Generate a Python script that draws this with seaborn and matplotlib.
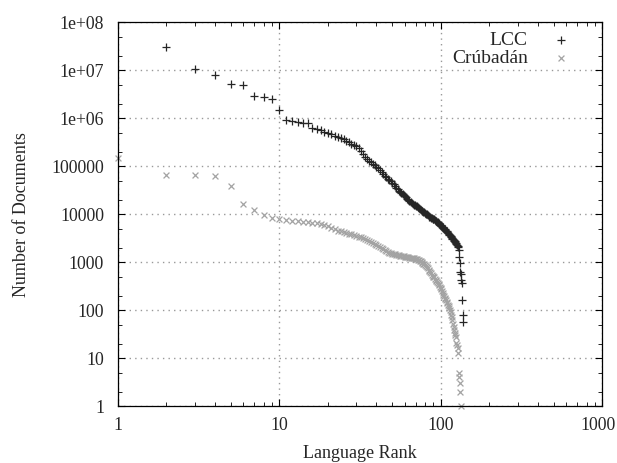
import pandas as pd
import matplotlib
matplotlib.use("Agg")
import matplotlib.pyplot as plt
import matplotlib.ticker as mticker
import matplotlib.transforms as mtransforms
import seaborn as sns

# LCC document counts by language rank (rank 1 lies above the plot)
lcc_rank = list(range(2, 139))
lcc_docs = [
    30000000, 10500000, 7900000, 5100000, 4900000, 2900000, 2700000, 2500000, 1500000,
    910000, 890000, 850000, 810000, 780000, 620000, 590000, 560000, 525000, 490000,
    457000, 427000, 398000, 380000, 363000, 339000, 316000, 295000, 275000, 257000,
    234000, 209000, 182000, 158000, 141000, 129000, 120000, 112000, 105000, 98000,
    91000, 83000, 76000, 69000, 63000, 59000, 55000, 51000, 48000, 45000,
    42000, 38000, 35500, 33000, 31000, 29000, 27500, 26300, 25100, 24000,
    22400, 20900, 19500, 18600, 17800, 17000, 16200, 15800, 15500, 15100,
    14500, 13800, 13200, 12600, 12000, 11700, 11500, 11200, 11000, 10500,
    10200, 10000, 9500, 9300, 8900, 8700, 8500, 8300, 8100, 7900,
    7800, 7600, 7200, 7100, 6900, 6800, 6500, 6300, 6000, 5900,
    5750, 5500, 5400, 5250, 5000, 4900, 4700, 4550, 4350, 4150,
    4050, 3900, 3700, 3600, 3450, 3400, 3250, 3100, 3000, 2900,
    2800, 2700, 2650, 2500, 2400, 2300, 2200, 2050, 1800, 1250,
    950, 620, 560, 420, 360, 160, 80, 56,
]

# Crubadan document counts by language rank
crub_rank = list(range(1, 134))
crub_docs = [
    148000, 65000, 64000, 62000, 38000, 16200, 12000, 9500, 8500, 7900,
    7400, 7250, 7100, 6900, 6750, 6600, 6450, 6300, 6050, 5600,
    5250, 4900, 4550, 4350, 4200, 4050, 3900, 3800, 3650, 3550,
    3400, 3300, 3150, 3000, 2900, 2750, 2650, 2500, 2400, 2300,
    2200, 2100, 2000, 1900, 1820, 1740, 1660, 1580, 1550, 1510,
    1480, 1450, 1420, 1400, 1380, 1360, 1340, 1320, 1310, 1300,
    1280, 1270, 1250, 1240, 1230, 1220, 1210, 1200, 1180, 1170,
    1150, 1120, 1100, 1070, 1040, 1000, 970, 930, 910, 890,
    850, 800, 740, 690, 660, 620, 590, 550, 525, 500,
    480, 450, 420, 400, 380, 360, 350, 330, 310, 290,
    270, 250, 230, 210, 195, 182, 170, 160, 148, 138,
    129, 120, 110, 100, 91, 80, 71, 63, 52, 45,
    38, 33, 30, 27, 21, 19, 16, 12.5, 5, 4,
    3, 2, 1,
]

y_ticks = [1, 10, 100, 1000, 10000, 100000, 1e6, 1e7, 1e8]
y_labels = ["1", "10", "100", "1000", "10000", "100000", "1e+06", "1e+07", "1e+08"]
x_ticks = [1, 10, 100, 1000]
x_labels = ["1", "10", "100", "1000"]

lcc = pd.DataFrame({"rank": lcc_rank, "docs": lcc_docs})
crub = pd.DataFrame({"rank": crub_rank, "docs": crub_docs})

sns.set_style("ticks")
plt.rcParams["font.family"] = ["Liberation Serif", "DejaVu Serif"]
plt.rcParams["xtick.direction"] = "in"
plt.rcParams["ytick.direction"] = "in"

fig = plt.figure(figsize=(6.17, 4.63), dpi=100)
ax = fig.add_axes([0.191, 0.123, 0.785, 0.829])

sns.scatterplot(data=lcc, x="rank", y="docs", marker="+", color="#262626",
                s=28, linewidth=0.9, label="LCC", ax=ax, zorder=3, clip_on=False)
sns.scatterplot(data=crub, x="rank", y="docs", marker="x", color="#a3a3a3",
                s=18, linewidth=0.9, label="Crúbadán", ax=ax, zorder=2, clip_on=False)

ax.set_xscale("log")
ax.set_yscale("log")
ax.set_xlim(1, 1000)
ax.set_ylim(1, 1e8)
ax.set_xticks(x_ticks)
ax.set_xticklabels(x_labels)
ax.set_yticks(y_ticks)
ax.set_yticklabels(y_labels)
ax.xaxis.set_minor_locator(mticker.LogLocator(base=10, subs=range(2, 10)))
ax.yaxis.set_minor_locator(mticker.LogLocator(base=10, subs=(2, 5)))
ax.xaxis.set_minor_formatter(mticker.NullFormatter())
ax.yaxis.set_minor_formatter(mticker.NullFormatter())

ax.tick_params(which="both", top=True, right=True, labelsize=12.8, color="black")
ax.tick_params(axis="y", which="major", length=5, width=0.8, pad=10)
ax.tick_params(axis="x", which="major", length=5, width=0.8, pad=8)
ax.tick_params(which="minor", length=3, width=0.6)

# nudge the last x label so it stays inside the canvas
last = ax.get_xticklabels()[-1]
last.set_transform(last.get_transform() +
                   mtransforms.ScaledTranslation(-4 / 100, 0, fig.dpi_scale_trans))

ax.grid(True, which="major", linestyle=(0, (1, 3)), color="#999999", linewidth=1.0)
for sp in ax.spines.values():
    sp.set_color("black")
    sp.set_linewidth(0.9)

ax.set_xlabel("Language Rank", fontsize=13, labelpad=8)
ax.set_ylabel("Number of Documents", fontsize=13, labelpad=15)

leg = ax.legend(loc="upper right", bbox_to_anchor=(0.934, 0.941),
                bbox_transform=fig.transFigure, frameon=False, markerfirst=False,
                fontsize=14, handletextpad=1.1, borderaxespad=0.0,
                labelspacing=0.05, handlelength=1.2, borderpad=0.2)
for t in leg.get_texts():
    t.set_ha("right")

fig.savefig("out.png", dpi=100)
